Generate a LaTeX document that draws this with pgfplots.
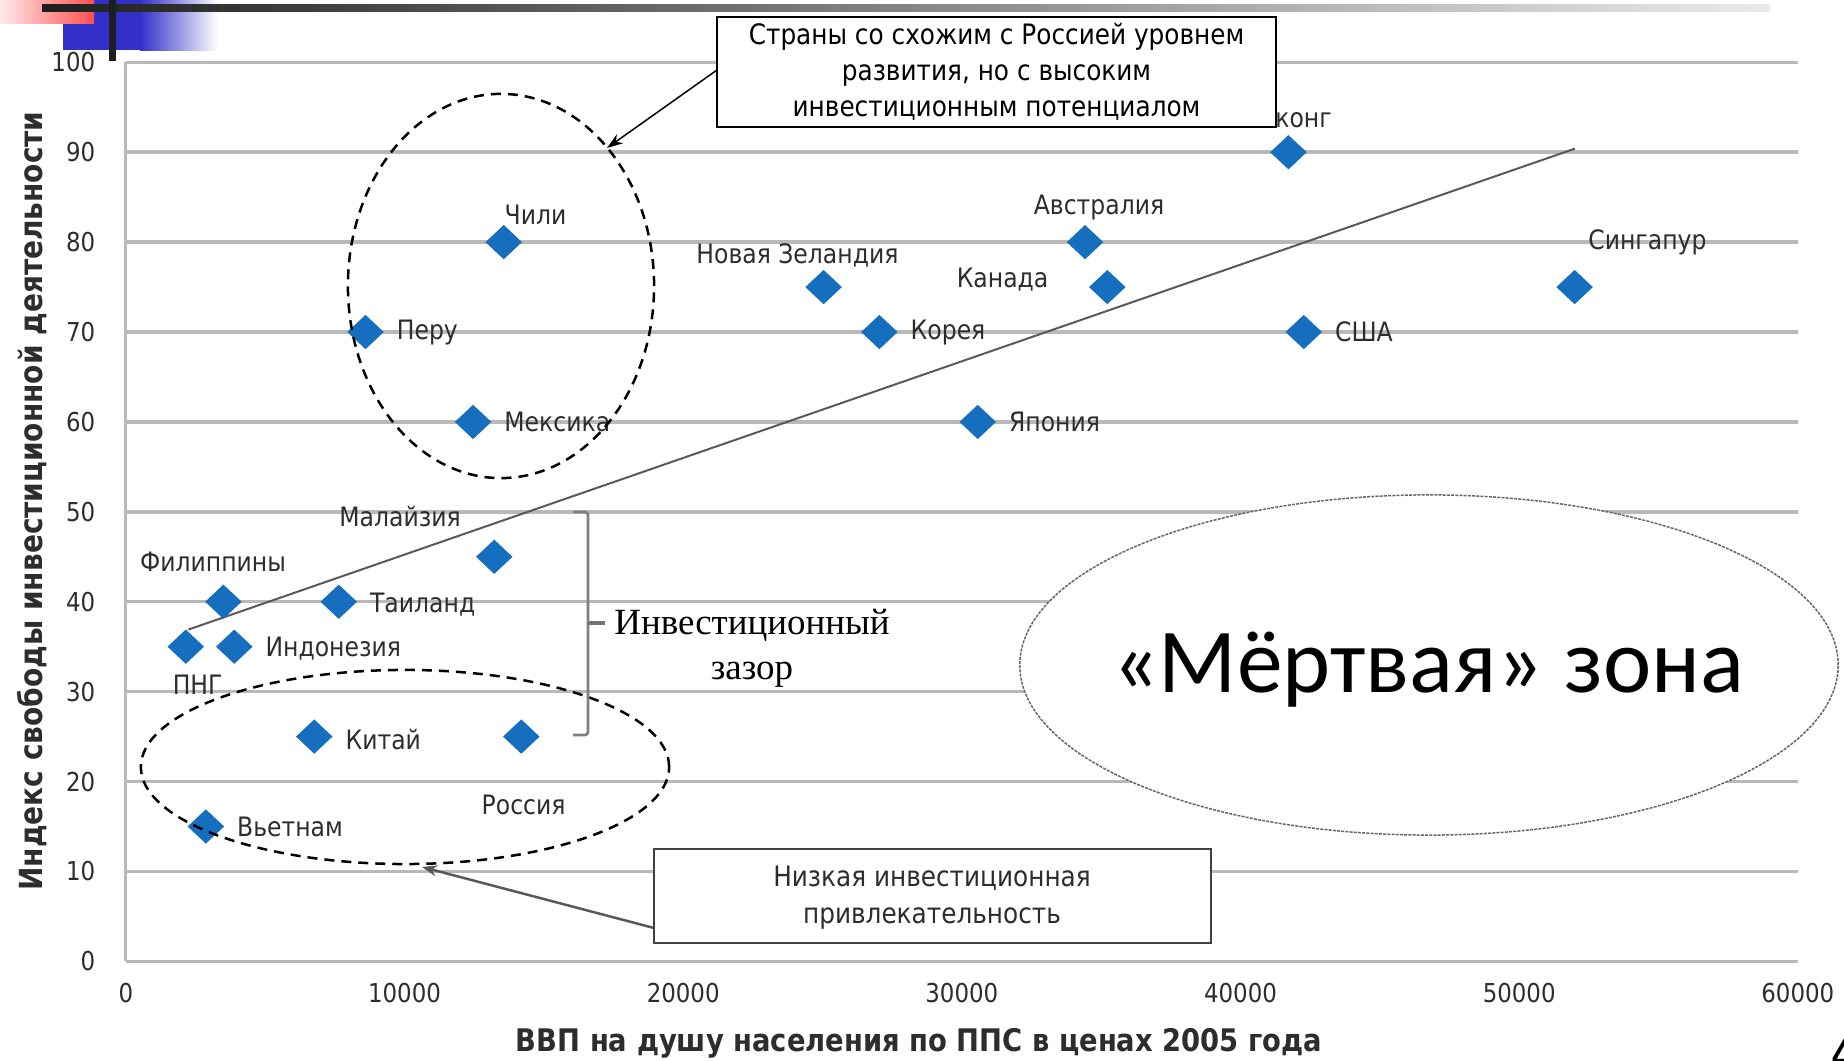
\documentclass[border=0pt]{standalone}
\usepackage{fontspec}
\setmainfont{DejaVu Sans}[FakeStretch=0.88]
\newfontfamily\serifcyr{Liberation Serif}
\newfontfamily\calib{Carlito}
\usepackage{pgfplots}
\pgfplotsset{compat=1.18}
\usetikzlibrary{arrows.meta}
\definecolor{dia}{RGB}{22,110,190}
\definecolor{lab}{RGB}{45,45,45}
\definecolor{gridc}{RGB}{185,185,185}
\definecolor{deco}{RGB}{50,48,200}
\definecolor{decored}{RGB}{255,80,80}

\begin{document}
\begin{tikzpicture}[x=0.01cm,y=-0.01cm]
\useasboundingbox (0,0) rectangle (1844,1061);
% slide template decoration
\fill[deco] (63,0) rectangle (140,50);
\shade[left color=deco, right color=white] (140,0) rectangle (218,51);
\shade[left color=decored!12, right color=decored] (0,0) rectangle (94,24);
\shade[left color=black!88, right color=black!8] (42,5) rectangle (1770,12);
\fill[black!88] (109,0) rectangle (116,61);

\begin{axis}[
  at={(1.258cm,-9.608cm)}, anchor=south west,
  scale only axis, width=16.71cm, height=8.985cm,
  xmin=0, xmax=60000, ymin=0, ymax=100,
  axis x line=bottom, axis y line=left,
  axis line style={-, draw=gridc, line width=0.03cm},
  xtick={0,10000,...,60000}, ytick={0,10,...,100},
  major tick length=0pt,
  scaled x ticks=false,
  /pgf/number format/assume math mode=true,
  /pgf/number format/set thousands separator={},
  ymajorgrids,
  major grid style={draw=gridc, line width=0.035cm},
  tick label style={font=\fontsize{7.4}{9}\selectfont, text=lab, inner sep=0pt},
  yticklabel style={anchor=east, xshift=-0.30cm},
  xticklabel style={anchor=north, yshift=-0.21cm},
  clip=false,
]
\addplot[no marks, draw=black!65, line width=0.02cm] coordinates {(2240,36.9) (52000,90.4)};
\addplot[only marks, mark=diamond*, mark size=4.6pt,
  mark options={fill=dia, draw=dia, xscale=1.42}] coordinates {
  (13560,80) (8600,70) (12460,60) (25040,75) (27040,70) (30570,60)
  (34420,80) (35220,75) (41720,90) (42270,70) (51990,75)
  (13220,45) (3500,40) (7640,40) (2150,35) (3890,35)
  (6760,25) (14190,25) (2870,15)};
\tikzset{lbl/.style={font=\fontsize{7.6}{9}\selectfont, text=lab, inner sep=0pt}}
\node[lbl] at (axis cs:14700,83.1) {Чили};
\node[lbl,anchor=west] at (axis cs:9700,70) {Перу};
\node[lbl,anchor=west] at (axis cs:13560,60) {Мексика};
\node[lbl] at (axis cs:24100,78.5) {Новая Зеландия};
\node[lbl,anchor=west] at (axis cs:28140,70) {Корея};
\node[lbl,anchor=west] at (axis cs:31670,60) {Япония};
\node[lbl] at (axis cs:34924,83.8) {Австралия};
\node[lbl] at (axis cs:31461,75.8) {Канада};
\node[lbl] at (axis cs:41470,93.8) {Гонконг};
\node[lbl,anchor=west] at (axis cs:43370,70) {США};
\node[lbl] at (axis cs:54603,80.0) {Сингапур};
\node[lbl] at (axis cs:9839,49.5) {Малайзия};
\node[lbl] at (axis cs:3125,44.5) {Филиппины};
\node[lbl,anchor=west] at (axis cs:8740,39.7) {Таиланд};
\node[lbl] at (axis cs:2576,30.8) {ПНГ};
\node[lbl,anchor=west] at (axis cs:4990,34.8) {Индонезия};
\node[lbl,anchor=west] at (axis cs:7860,24.7) {Китай};
\node[lbl] at (axis cs:14274,17.4) {Россия};
\node[lbl,anchor=west] at (axis cs:3970,14.9) {Вьетнам};
\end{axis}

% axis titles
\node[font=\bfseries\fontsize{8.85}{10}\selectfont, text=lab] at (919,1043) {ВВП на душу населения по ППС в ценах 2005 года};
\node[rotate=90, font=\bfseries\fontsize{9.05}{10}\selectfont, text=lab] at (32,501) {Индекс свободы инвестиционной деятельности};

% dashed ellipses
\draw[black, line width=0.025cm, dash pattern=on 0.1cm off 0.07cm] (501,286) ellipse [x radius=1.53cm, y radius=1.92cm];
\draw[black, line width=0.025cm, dash pattern=on 0.1cm off 0.07cm] (405,767) ellipse [x radius=2.64cm, y radius=0.97cm];

% dead zone
\draw[black!60, fill=white, line width=0.015cm, dash pattern=on 0.03cm off 0.012cm] (1429,665) ellipse [x radius=4.09cm, y radius=1.70cm];
\node[font=\calib\fontsize{26}{30}\selectfont, text=black] at (1428,670) {«Мёртвая» зона};

% callout box 1
\draw[-{Stealth[length=0.16cm,width=0.11cm]}, line width=0.015cm] (717,70) -- (607,148);
\draw[black, fill=white, line width=0.025cm] (717,17) rectangle (1276,127);
\node[align=center, font=\fontsize{8}{10.2}\selectfont, text=black] at (996.5,72) {Страны со схожим с Россией уровнем\\развития, но с высоким\\инвестиционным потенциалом};

% callout box 2
\draw[draw=black!65, line width=0.025cm, -{Stealth[length=0.15cm,width=0.11cm]}] (654,928) -- (422,867);
\draw[draw=black!75, fill=white, line width=0.025cm] (654,849) rectangle (1211,943);
\node[align=center, font=\fontsize{8}{10.5}\selectfont, text=lab] at (932,898) {Низкая инвестиционная\\привлекательность};

% investment gap bracket
\draw[draw=black!50, line width=0.027cm, rounded corners=0.03cm] (573,512) -- (588,512) -- (588,735) -- (573,735);
\draw[draw=black!55, line width=0.045cm] (588,623) -- (605,623);
\node[anchor=base, font=\serifcyr\fontsize{10.5}{12.8}\selectfont, inner sep=0pt] at (752,635) {Инвестиционный};
\node[anchor=base, font=\serifcyr\fontsize{10.5}{12.8}\selectfont, inner sep=0pt] at (752,680) {зазор};

% page number (cut by the slide edge, as in the source)
\node[anchor=base west, font=\fontsize{17}{20}\selectfont, inner sep=0pt] at (1830,1074) {4};
\end{tikzpicture}
\end{document}
